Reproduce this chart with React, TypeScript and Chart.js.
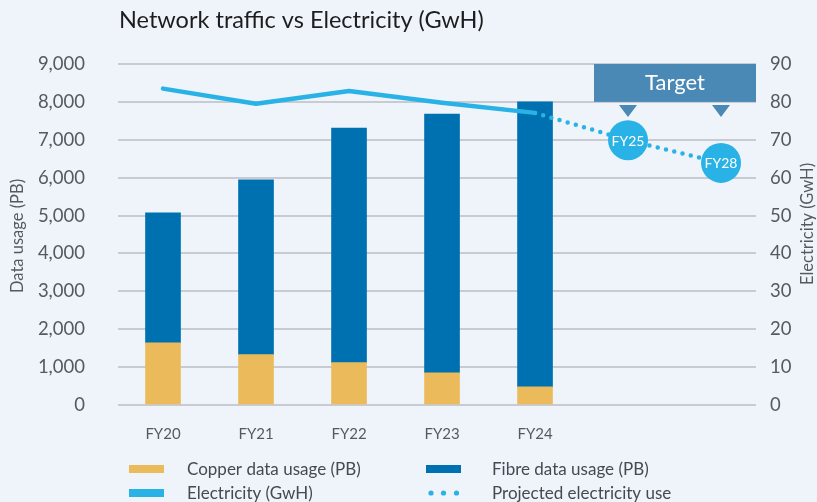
import React, { useEffect, useRef } from 'react';
import { Chart, registerables } from 'chart.js';

Chart.register(...registerables);

// ---------- data ----------
const allCategories = ['FY20', 'FY21', 'FY22', 'FY23', 'FY24', 'FY25', 'FY28'];
const categories = ['FY20', 'FY21', 'FY22', 'FY23', 'FY24'];
const copperData = [1640, 1330, 1120, 850, 480];
const fibreData = [3430, 4610, 6190, 6830, 7520];
const electricityData = [83.5, 79.5, 82.9, 79.8, 77.1];
const projectedLabels = ['FY24', 'FY25', 'FY28'];
const projectedData = [77.1, 69.9, 63.9];
const leftTickMax = 9000;
const leftTickStep = 1000;
const rightTickMax = 90;
const rightTickStep = 10;

const titleText = 'Network traffic vs Electricity (GwH)';
const leftAxisTitle = 'Data usage (PB)';
const rightAxisTitle = 'Electricity (GwH)';
const targetText = 'Target';
const legendItems = [
  { label: 'Copper data usage (PB)', kind: 'bar', color: '#ebbb5b' },
  { label: 'Fibre data usage (PB)', kind: 'bar', color: '#0071b0' },
  { label: 'Electricity (GwH)', kind: 'bar', color: '#29b2e6' },
  { label: 'Projected electricity use', kind: 'dots', color: '#29b2e6' },
];

// ---------- styles ----------
const FONT = 'Lato, "Open Sans", sans-serif';
const BG = '#eff4fb';
const COPPER = '#ebbb5b';
const FIBRE = '#0071b0';
const ELEC = '#29b2e6';
const TARGET = '#4a88b5';
const TICK = '#555a60';
const GRID = '#c8ccd2';

const idx = (label: string) => allCategories.indexOf(label);

const decorPlugin = {
  id: 'decor',
  beforeDraw(chart: any) {
    const { ctx, width, height } = chart;
    ctx.save();
    ctx.fillStyle = BG;
    ctx.fillRect(0, 0, width, height);
    ctx.restore();
  },
  afterDatasetsDraw(chart: any) {
    const ctx = chart.ctx;
    const meta = chart.getDatasetMeta(1);
    ctx.save();
    ctx.fillStyle = '#ffffff';
    ctx.font = `14px ${FONT}`;
    ctx.textAlign = 'center';
    ctx.textBaseline = 'middle';
    meta.data.forEach((pt: any, i: number) => {
      if (i === 0) return;
      ctx.fillText(projectedLabels[i], pt.x, pt.y + 1);
    });
    ctx.restore();
  },
  afterDraw(chart: any) {
    const { ctx, chartArea, scales } = chart;
    const x = scales.x;
    const y = scales.y;
    ctx.save();
    // Target box
    const p25 = x.getPixelForValue(idx('FY25'));
    const p28 = x.getPixelForValue(idx('FY28'));
    const left = p25 - 34;
    const top = y.getPixelForValue(9000);
    const bottom = y.getPixelForValue(8000);
    ctx.fillStyle = TARGET;
    ctx.fillRect(left, top, chartArea.right - left, bottom - top);
    ctx.fillStyle = '#ffffff';
    ctx.font = `22px ${FONT}`;
    ctx.textAlign = 'center';
    ctx.textBaseline = 'middle';
    ctx.fillText(targetText, (left + chartArea.right) / 2, (top + bottom) / 2);
    ctx.fillStyle = TARGET;
    [p25, p28].forEach((px) => {
      ctx.beginPath();
      ctx.moveTo(px - 9, bottom + 3);
      ctx.lineTo(px + 9, bottom + 3);
      ctx.lineTo(px, bottom + 15);
      ctx.closePath();
      ctx.fill();
    });

    // Title
    ctx.fillStyle = '#1d1d1f';
    ctx.font = `23.5px ${FONT}`;
    ctx.textAlign = 'left';
    ctx.textBaseline = 'alphabetic';
    ctx.fillText(titleText, 119, 28);

    // Axis titles
    ctx.fillStyle = TICK;
    ctx.font = `16.5px ${FONT}`;
    ctx.textAlign = 'center';
    ctx.textBaseline = 'middle';
    ctx.save();
    ctx.translate(18, 236);
    ctx.rotate(-Math.PI / 2);
    ctx.fillText(leftAxisTitle, 0, 0);
    ctx.restore();
    ctx.save();
    ctx.translate(808, 224);
    ctx.rotate(-Math.PI / 2);
    ctx.fillText(rightAxisTitle, 0, 0);
    ctx.restore();

    // Legend
    const colX = [129, 426];
    const textX = [187, 492];
    const rowY = [469, 493];
    ctx.font = `17px ${FONT}`;
    ctx.textAlign = 'left';
    ctx.textBaseline = 'middle';
    legendItems.forEach((item, i) => {
      const cx = colX[i % 2];
      const cy = rowY[Math.floor(i / 2)];
      ctx.fillStyle = item.color;
      if (item.kind === 'bar') {
        ctx.fillRect(cx, cy - 4, 35, 8);
      } else {
        [2.5, 15, 28].forEach((dx) => {
          ctx.beginPath();
          ctx.arc(cx + dx + 2.5, cy, 2.6, 0, Math.PI * 2);
          ctx.fill();
        });
      }
      ctx.fillStyle = '#444a50';
      ctx.fillText(item.label, textX[i % 2], cy + 1);
    });
    ctx.restore();
  },
};

export default function App() {
  const canvasRef = useRef<HTMLCanvasElement | null>(null);

  useEffect(() => {
    document.body.style.margin = '0';
    document.body.style.background = BG;
    const canvas = canvasRef.current;
    if (!canvas) return;

    const chart = new Chart(canvas, {
      type: 'bar',
      data: {
        datasets: [
          {
            type: 'line',
            label: 'Electricity (GwH)',
            data: categories.map((c, i) => ({ x: idx(c), y: electricityData[i] })),
            yAxisID: 'y1',
            borderColor: ELEC,
            borderWidth: 4.5,
            borderCapStyle: 'round',
            borderJoinStyle: 'round',
            pointRadius: 0,
            tension: 0,
            order: 1,
          } as any,
          {
            type: 'line',
            label: 'Projected electricity use',
            data: projectedLabels.map((c, i) => ({ x: idx(c), y: projectedData[i] })),
            yAxisID: 'y1',
            borderColor: ELEC,
            borderWidth: 4.5,
            borderCapStyle: 'round',
            borderDash: [0, 8.5],
            pointRadius: (c: any) => (c.dataIndex === 0 ? 0 : 20),
            pointBackgroundColor: ELEC,
            pointBorderWidth: 0,
            tension: 0,
            order: 0,
          } as any,
          {
            label: 'Copper data usage (PB)',
            data: categories.map((c, i) => ({ x: idx(c), y: copperData[i] })),
            backgroundColor: COPPER,
            barThickness: 35,
            yAxisID: 'y',
            order: 2,
          },
          {
            label: 'Fibre data usage (PB)',
            data: categories.map((c, i) => ({ x: idx(c), y: fibreData[i] })),
            backgroundColor: FIBRE,
            barThickness: 35,
            yAxisID: 'y',
            order: 2,
          },
        ],
      },
      options: {
        responsive: false,
        animation: false,
        devicePixelRatio: 1,
        events: [],
        layout: { padding: { top: 64, left: 0, right: 0, bottom: 0 } },
        plugins: {
          legend: { display: false },
          title: { display: false },
          tooltip: { enabled: false },
        },
        scales: {
          x: {
            type: 'linear',
            stacked: true,
            offset: false,
            min: -0.484,
            max: 6.376,
            grid: { display: false, offset: false, drawTicks: false },
            border: { display: false },
            afterBuildTicks: (scale: any) => {
              scale.ticks = categories.map((c) => ({ value: idx(c) }));
            },
            afterFit: (scale: any) => {
              scale.height = 97;
            },
            ticks: {
              autoSkip: false,
              maxRotation: 0,
              padding: 20,
              color: TICK,
              font: { family: FONT, size: 15 },
              callback: (v: any) => allCategories[v] ?? '',
            },
          },
          y: {
            type: 'linear',
            position: 'left',
            stacked: true,
            min: 0,
            max: leftTickMax,
            grid: { color: GRID, lineWidth: 2, drawTicks: false },
            border: { display: false },
            afterFit: (scale: any) => {
              scale.width = 118;
            },
            ticks: {
              stepSize: leftTickStep,
              padding: 33,
              color: TICK,
              font: { family: FONT, size: 18.5 },
              callback: (v: any) => Number(v).toLocaleString('en-US'),
            },
          },
          y1: {
            type: 'linear',
            position: 'right',
            min: 0,
            max: rightTickMax,
            grid: { display: false, drawTicks: false },
            border: { display: false },
            afterFit: (scale: any) => {
              scale.width = 61;
            },
            ticks: {
              stepSize: rightTickStep,
              padding: 14,
              color: TICK,
              font: { family: FONT, size: 18.5 },
            },
          },
        },
      } as any,
      plugins: [decorPlugin],
    });

    return () => chart.destroy();
  }, []);

  return (
    <div style={{ width: 817, height: 502, background: BG }}>
      <canvas ref={canvasRef} width={817} height={502} style={{ display: 'block' }} />
    </div>
  );
}
